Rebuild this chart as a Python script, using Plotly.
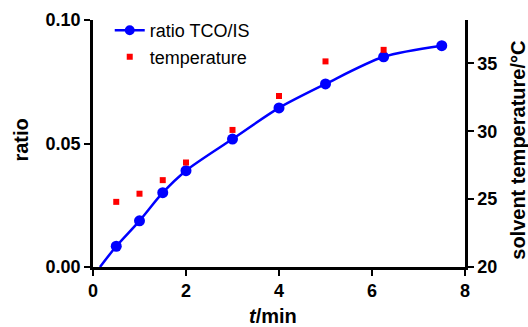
import plotly.graph_objects as go

# data
t_ratio = [0.15, 0.5, 1.0, 1.5, 2.0, 3.0, 4.0, 5.0, 6.25, 7.5]
ratio = [0.0, 0.0084, 0.0187, 0.0301, 0.0390, 0.0518, 0.0644, 0.0741, 0.0851, 0.0896]
ratio_marker_size = [0, 11, 11, 11, 11, 11, 11, 11, 11, 11]  # first point is the fit curve's intercept

t_temp = [0.5, 1.0, 1.5, 2.0, 3.0, 4.0, 5.0, 6.25]
temp = [24.8, 25.4, 26.4, 27.7, 30.1, 32.6, 35.15, 36.0]

x_ticks = [0, 2, 4, 6, 8]
y_ticks = [0.0, 0.05, 0.10]
y_tick_labels = ["0.00", "0.05", "0.10"]
y2_ticks = [20, 25, 30, 35]

FONT = "Liberation Sans, Arial, sans-serif"
BLUE = "#0000ff"
RED = "#ff0000"
TITLE_FONT = dict(family=FONT, size=20, color="black", weight="bold")

fig = go.Figure()
fig.add_trace(go.Scatter(x=t_ratio, y=ratio, mode="markers+lines", name="ratio TCO/IS",
                         line=dict(color=BLUE, width=2.5, shape="spline", smoothing=0.8),
                         marker=dict(color=BLUE, size=ratio_marker_size, symbol="circle",
                                     opacity=1, line=dict(width=0))))
fig.add_trace(go.Scatter(x=t_temp, y=temp, mode="markers", name="temperature", yaxis="y2",
                         marker=dict(color=RED, size=6, symbol="square")))

axis_common = dict(showline=True, linecolor="black", linewidth=2.5, ticks="outside", ticklen=6,
                   tickwidth=2, tickcolor="black", showgrid=False, zeroline=False, automargin=False,
                   tickfont=dict(family=FONT, size=18, color="black", weight="bold"))

fig.update_layout(
    width=528, height=327,
    margin=dict(l=93, r=63, t=20, b=60, autoexpand=False),
    plot_bgcolor="white", paper_bgcolor="white",
    xaxis=dict(range=[0, 8], tickvals=x_ticks, **axis_common),
    yaxis=dict(range=[0, 0.1], tickvals=y_ticks, ticktext=y_tick_labels, **axis_common),
    yaxis2=dict(range=[20, 38.2], tickvals=y2_ticks, overlaying="y", side="right", anchor="x", **axis_common),
    legend=dict(x=0.045, y=1.032, xanchor="left", yanchor="top", bgcolor="rgba(0,0,0,0)",
                font=dict(family=FONT, size=18, color="black"), itemwidth=30, tracegroupgap=0),
    showlegend=True,
    annotations=[
        dict(text="ratio", xref="paper", yref="paper", x=-0.196, y=0.512, textangle=-90,
             showarrow=False, font=TITLE_FONT, xanchor="center", yanchor="middle"),
        dict(text="<i>t</i>/min", xref="paper", yref="paper", x=0.485, y=-0.2, 
             showarrow=False, font=TITLE_FONT, xanchor="center", yanchor="middle"),
        dict(text="solvent temperature/°C", xref="paper", yref="paper", x=1.142, y=0.474, textangle=-90,
             showarrow=False, font=TITLE_FONT, xanchor="center", yanchor="middle"),
    ],
)

fig.write_html("out.html", config={"displayModeBar": False},
               post_script="document.body.style.margin='0';document.body.style.overflow='hidden';")
